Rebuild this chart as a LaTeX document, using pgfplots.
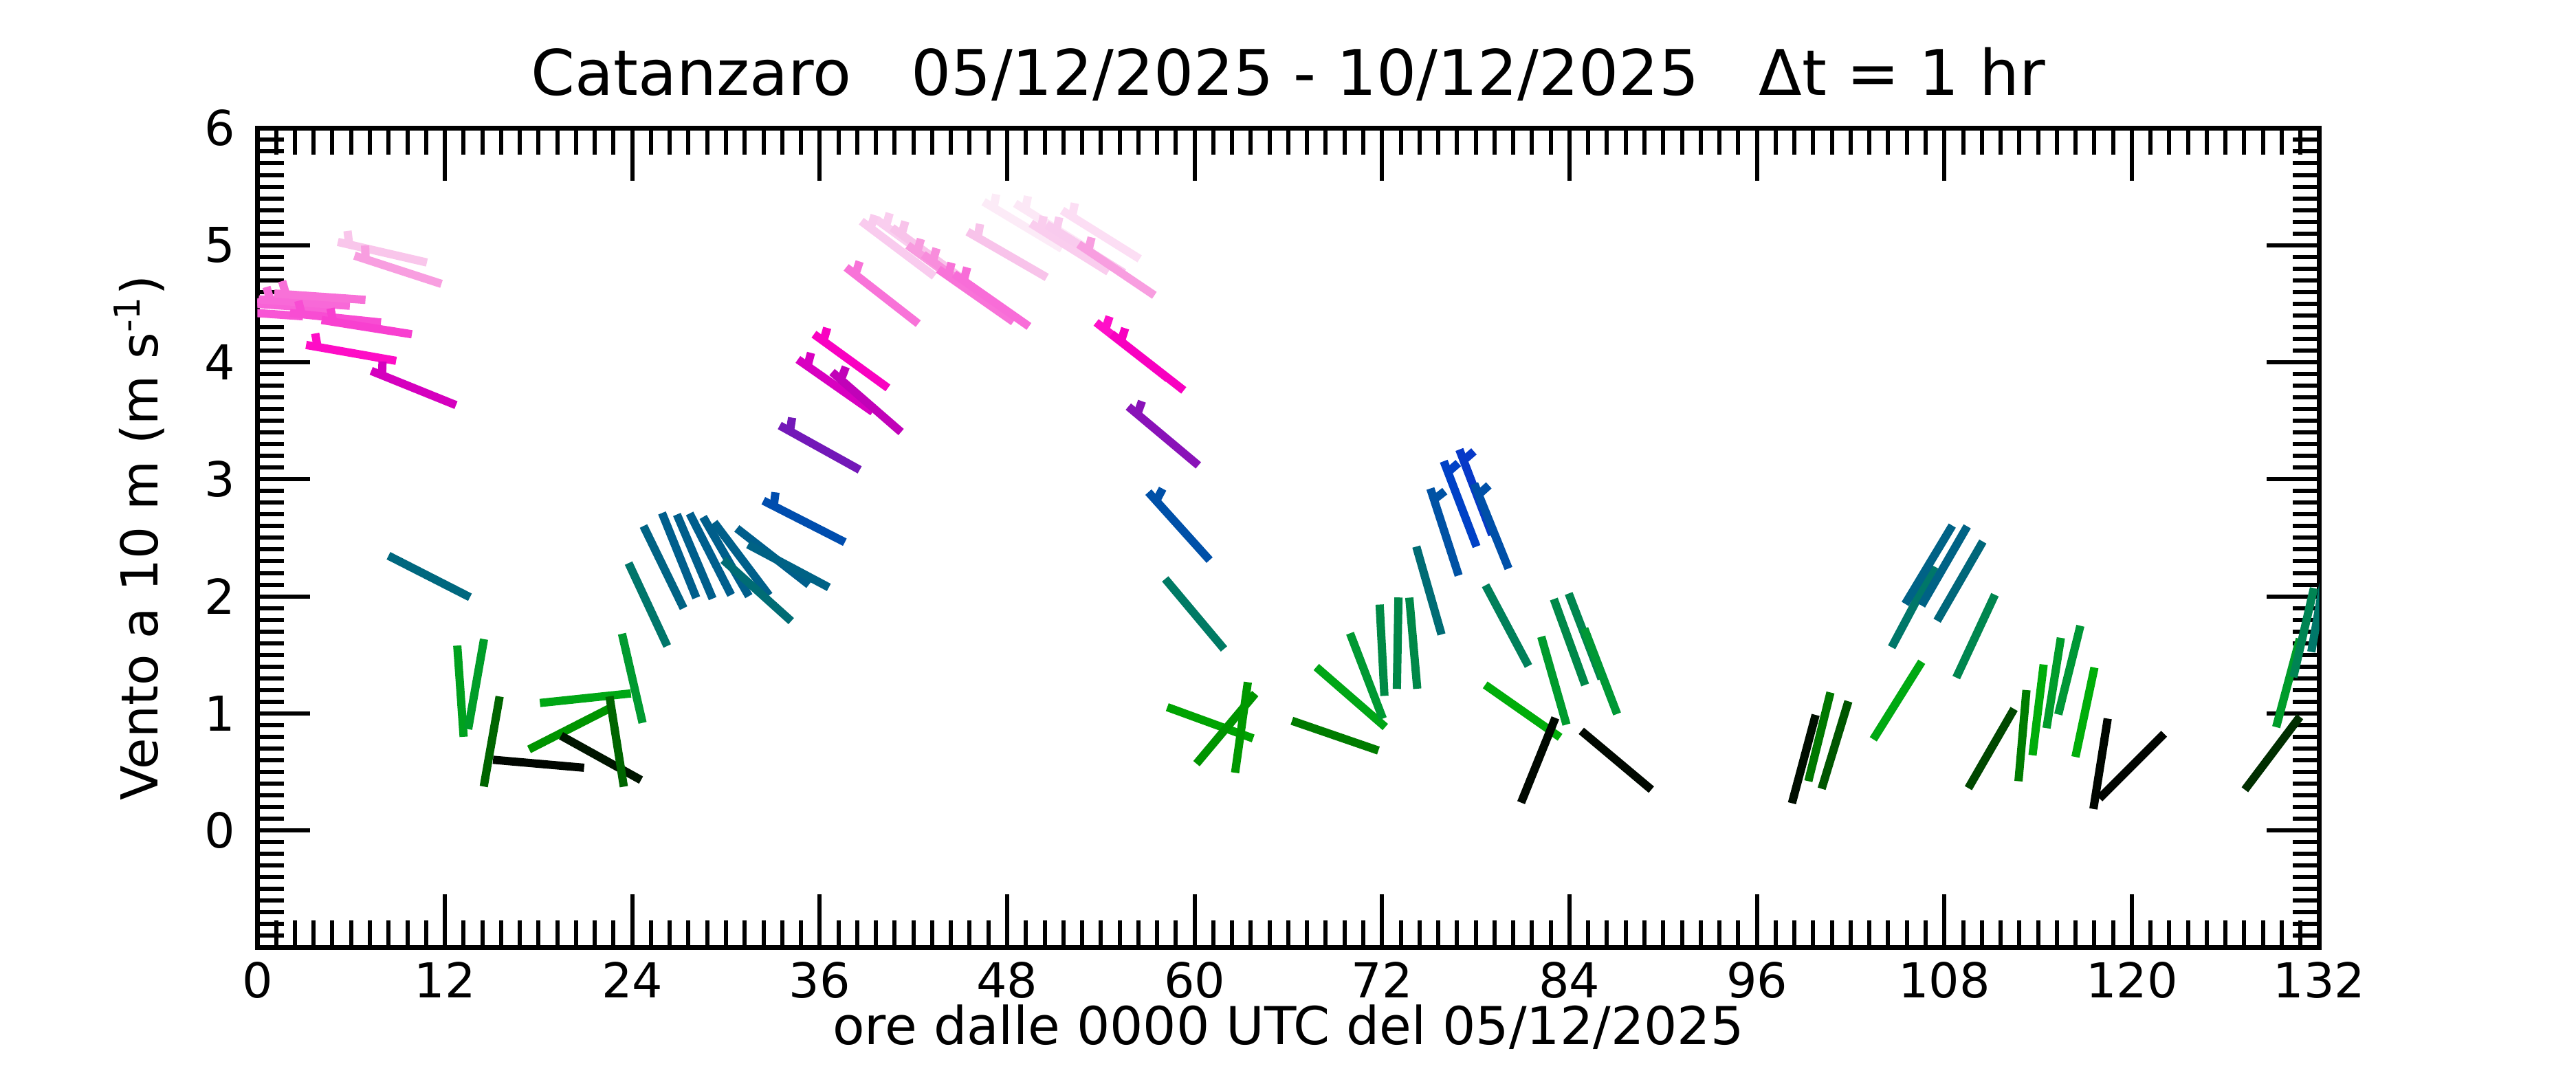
\documentclass[border=0pt]{standalone}
\usepackage{fontspec}
\setmainfont{DejaVu Sans}
\usepackage{pgfplots}
\usepackage{pgfplotstable}
\pgfplotsset{compat=1.18}

% hr = hour, spd = wind speed (m/s), ang = direction of barb head (deg, screen), tk = barb tick
\pgfplotstableread{
hr spd ang tk
0 4.42 176 1
1 4.50 175 1
2 4.48 176 1
3 4.51 176 1
4 4.56 176 1
5 4.38 174 1
6 4.08 170 1
7 4.30 171 1
8 4.94 167 1
9 4.79 162 1
10 3.78 158 1
11 2.17 153 0
13 1.19 94 0
14 1.25 80 0
15 0.76 80 0
18 0.57 175 0
20 0.87 27 0
21 1.13 186 0
22 0.62 151 0
23 0.76 99 0
24 1.30 103 0
25 1.93 115 0
26 2.25 116 0
27 2.35 112 0
28 2.34 113 0
29 2.36 117 0
30 2.34 120 0
31 2.32 127 0
32 2.05 138 0
33 2.34 142 0
34 2.26 152 0
35 2.64 153 1
36 3.27 151 1
37 3.80 145 1
38 4.01 144 1
39 3.66 139 1
40 4.57 142 1
41 4.97 143 1
42 4.99 144 1
43 4.92 144 1
44 4.77 144 1
45 4.69 144 1
46 4.57 145 1
47 4.53 145 1
48 4.92 150 1
49 5.17 149 1
51 5.15 148 1
52 4.98 148 1
53 4.97 148 1
54 5.09 148 1
55 4.79 146 1
56 4.10 142 1
57 4.00 142 1
58 3.37 140 1
59 2.60 132 1
60 1.85 130 0
61 0.92 160 0
62 0.87 50 0
63 0.88 82 0
69 0.81 161 0
70 1.14 139 0
71 1.32 111 0
72 1.54 93 0
73 1.60 89 0
74 1.60 95 0
75 2.05 106 0
76 2.55 108 1
77 2.79 111 1
78 2.89 111 1
79 2.60 112 1
80 1.75 118 0
81 1.02 145 0
82 0.60 68 0
83 1.28 106 0
84 1.61 110 0
85 1.66 111 0
86 1.36 111 0
87 0.60 140 0
99 0.61 75 0
100 0.80 76 0
101 0.73 73 0
105 1.11 58 0
106 1.91 62 0
107 2.27 59 0
108 2.26 60 0
109 2.13 60 0
110 1.66 65 0
111 0.70 60 0
113 0.81 85 0
114 1.03 83 0
115 1.26 81 0
116 1.37 76 0
117 1.01 78 0
118 0.57 81 0
120 0.55 45 0
129 0.66 53 0
130 1.26 75 0
131 1.69 77 0
132 1.91 80 0
}\barbs

\begin{document}
\begin{tikzpicture}
\useasboundingbox (0,0) rectangle (749.4pt,312.2pt);
\begin{axis}[
  at={(74.88pt,36.5pt)}, anchor=south west,
  width=599.82pt, height=238.42pt, scale only axis,
  xmin=0, xmax=132, ymin=-1, ymax=6,
  xtick={0,12,...,132}, minor x tick num=9,
  ytick={-1,0,...,6}, yticklabels={,0,1,2,3,4,5,6}, minor y tick num=9,
  tick align=inside, xtick pos=both, ytick pos=both,
  major tick length=15.4pt, minor tick length=7.8pt,
  every tick/.style={black, line width=1.2pt},
  axis line style={line width=1.3pt},
  tick label style={font=\fontsize{14}{16}\selectfont},
  yticklabel style={xshift=-3pt},
  xticklabel style={yshift=-0.6pt},
  /pgf/number format/assume math mode=true,
  title={Catanzaro\ \ \ 05/12/2025 - 10/12/2025\ \ \ Δt = 1 hr},
  every axis title/.style={at={(axis description cs:0.5,1.0401)}, anchor=base, font=\fontsize{18.3}{21}\selectfont},
  xlabel={ore dalle 0000 UTC del 05/12/2025},
  every axis x label/.style={at={(axis description cs:0.5,-0.1187)}, anchor=base, font=\fontsize{15.2}{18}\selectfont},
  ylabel={Vento a 10 m (m s\textsuperscript{-1})},
  every axis y label/.style={at={(axis description cs:-0.0484,0.5)}, rotate=90, anchor=base, font=\fontsize{14.8}{18}\selectfont},
  colormap={wind}{
    rgb255=(0,0,0) rgb255=(0,0,0) rgb255=(0,0,0) rgb255=(0,0,0) rgb255=(0,0,0) rgb255=(0,0,0)
    rgb255=(0,8,0) rgb255=(0,72,0) rgb255=(0,120,0) rgb255=(0,160,0)
    rgb255=(0,174,8) rgb255=(0,170,16) rgb255=(0,160,32) rgb255=(0,154,48) rgb255=(0,150,56)
    rgb255=(0,140,68) rgb255=(0,136,72) rgb255=(0,132,84) rgb255=(0,124,96) rgb255=(0,120,104)
    rgb255=(0,112,112) rgb255=(0,104,120) rgb255=(0,102,128) rgb255=(0,96,136) rgb255=(0,92,144)
    rgb255=(0,84,160) rgb255=(0,80,168) rgb255=(0,72,184) rgb255=(0,64,200) rgb255=(8,56,200)
    rgb255=(48,48,192) rgb255=(80,32,188) rgb255=(104,24,184) rgb255=(120,24,184) rgb255=(144,16,184)
    rgb255=(160,8,184) rgb255=(184,4,184) rgb255=(200,0,184) rgb255=(216,0,192) rgb255=(232,0,192)
    rgb255=(248,0,192) rgb255=(255,16,200) rgb255=(252,40,204) rgb255=(248,64,208) rgb255=(248,80,212)
    rgb255=(248,104,216) rgb255=(248,120,216) rgb255=(248,144,220) rgb255=(248,160,224) rgb255=(248,192,232)
    rgb255=(250,208,240) rgb255=(252,224,244) rgb255=(252,240,248) rgb255=(253,246,250) rgb255=(254,250,252)
    rgb255=(255,255,255)
  },
  point meta min=0, point meta max=5.5,
  clip=true,
]
\addplot[-, line width=2.4pt,
  quiver={u={5.854*cos(\thisrow{ang})}, v={0.781*sin(\thisrow{ang})}, colored=mapped color},
  point meta=\thisrow{spd}]
  table[x expr={\thisrow{hr}-2.927*cos(\thisrow{ang})}, y expr={\thisrow{spd}-0.3905*sin(\thisrow{ang})}] {\barbs};
\addplot[-, line width=2.4pt,
  quiver={u={\thisrow{tk}*0.880*cos(\thisrow{ang}-70)}, v={\thisrow{tk}*0.1174*sin(\thisrow{ang}-70)}, colored=mapped color},
  point meta=\thisrow{spd}]
  table[x expr={\thisrow{hr}+2.179*cos(\thisrow{ang})}, y expr={\thisrow{spd}+0.2907*sin(\thisrow{ang})}] {\barbs};
\end{axis}
\end{tikzpicture}
\end{document}
